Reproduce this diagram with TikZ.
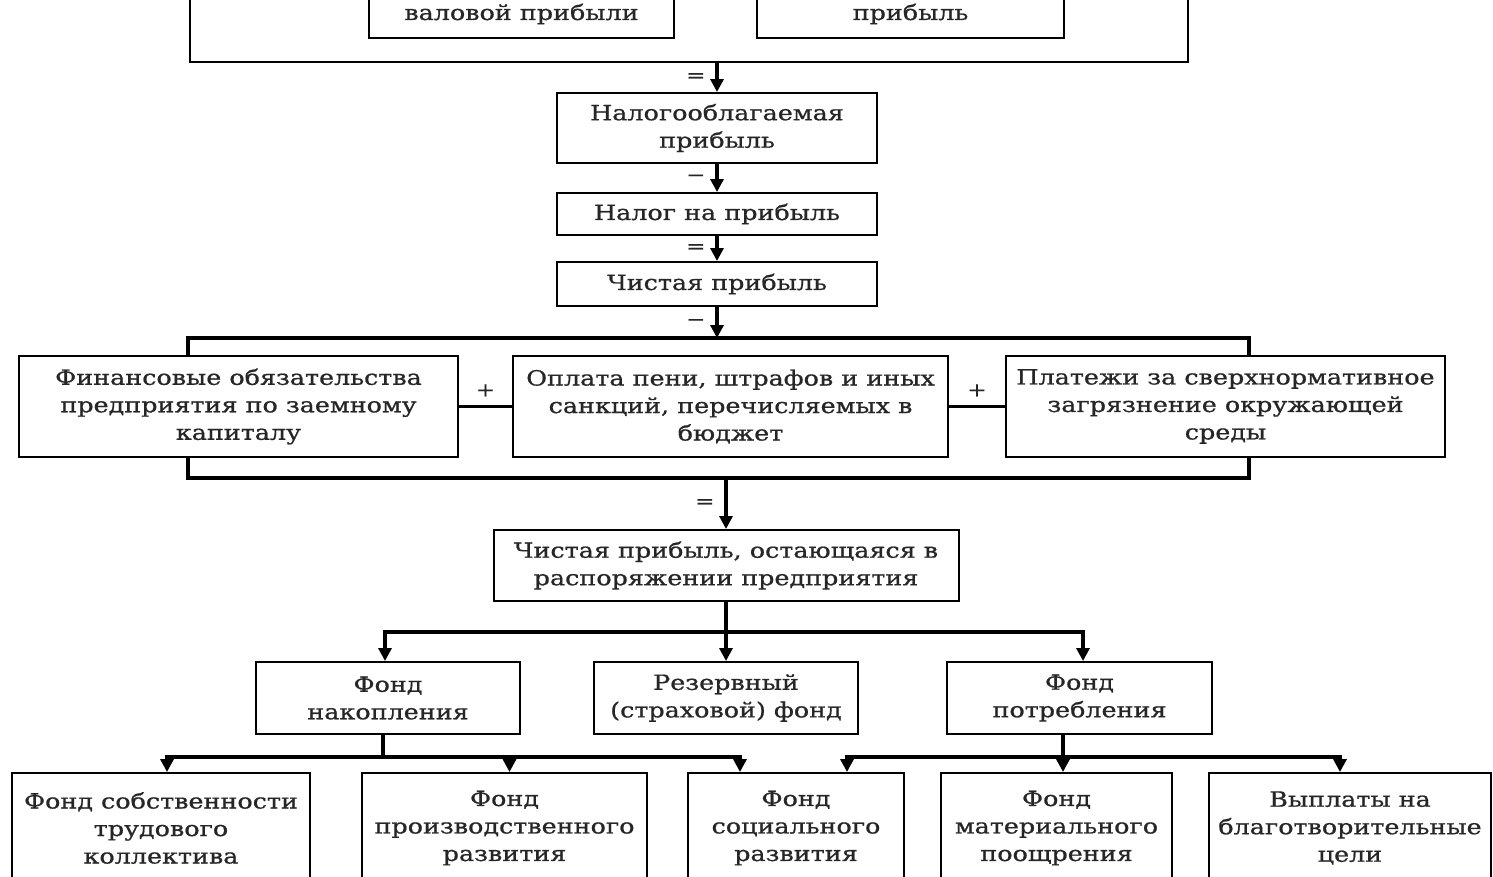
\documentclass[tikz,border=0pt]{standalone}
\usepackage{fontspec}
\setmainfont{DejaVu Serif}[FakeStretch=1.21,FakeBold=0.8]
\usetikzlibrary{arrows.meta}
\begin{document}
\begin{tikzpicture}[x=1pt,y=-1pt,
  box/.style={draw, line width=2pt, fill=white, align=center, inner sep=0pt,
    font=\fontsize{21}{27.5}\selectfont, text=black!85},
  arr/.style={line width=3.2pt, -{Triangle[length=13pt,width=13pt]}},
  conn/.style={line width=3.2pt},
  thin/.style={line width=2.4pt},
  sign/.style={font=\fontsize{19}{19}\selectfont, inner sep=0pt, text=black!85}]
\fill[white] (0,0) rectangle (1493,876);
\useasboundingbox (0,0) rectangle (1493,876);
\clip (0,0) rectangle (1493,876);

% top (cut) block
\node[box, minimum width=998pt, minimum height=82pt] (top) at (689,21) {};
\node[box, minimum width=305pt, minimum height=48pt] (ta) at (521.5,14) {валовой прибыли};
\node[box, minimum width=307pt, minimum height=48pt] (tb) at (910.5,14) {прибыль};

% middle column
\node[box, minimum width=320pt, minimum height=70pt] (n1) at (717,128) {Налогооблагаемая\\прибыль};
\node[box, minimum width=320pt, minimum height=42pt] (n2) at (717,214) {Налог на прибыль};
\node[box, minimum width=320pt, minimum height=44pt] (n3) at (717,284) {Чистая прибыль};

\draw[arr] (top.south -| n1.north) -- (n1.north) node[sign, midway, left=10pt] {=};
\draw[arr] (n1) -- (n2) node[sign, midway, left=10pt] {−};
\draw[arr] (n2) -- (n3) node[sign, midway, left=10pt] {=};

% bracket
\draw[line width=4pt] (188,338) rectangle (1249,478);
\coordinate (brT) at (717,338);
\coordinate (brB) at (726,478);
\draw[arr] (n3) -- (brT) node[sign, midway, left=10pt] {−};

\node[box, minimum width=439pt, minimum height=101pt] (r1) at (238.5,406.5) {Финансовые обязательства\\предприятия по заемному\\капиталу};
\node[box, minimum width=435pt, minimum height=101pt] (r2) at (730.5,406.5) {Оплата пени, штрафов и иных\\санкций, перечисляемых в\\бюджет};
\node[box, minimum width=439pt, minimum height=101pt] (r3) at (1225.5,406.5) {Платежи за сверхнормативное\\загрязнение окружающей\\среды};
\draw[thin] (r1) -- (r2) node[sign, midway, above=9pt] {+};
\draw[thin] (r2) -- (r3) node[sign, midway, above=9pt] {+};

% net profit remaining
\node[box, minimum width=465pt, minimum height=71pt] (n4) at (726,565.5) {Чистая прибыль, остающаяся в\\распоряжении предприятия};
\draw[arr] (brB) -- (n4.north) node[sign, midway, left=10pt] {=};

% funds
\node[box, minimum width=264pt, minimum height=72pt] (f1) at (388,698) {Фонд\\накопления};
\node[box, minimum width=264pt, minimum height=72pt] (f2) at (726,698) {Резервный\\(страховой) фонд};
\node[box, minimum width=265pt, minimum height=72pt] (f3) at (1079.5,698) {Фонд\\потребления};

\coordinate (j1) at (726,632);
\draw[conn] (n4.south) -- (j1);
\draw[arr] (j1) -| ([xshift=-3pt]f1.north);
\draw[arr] (j1) -| ([xshift=3.5pt]f3.north);
\draw[arr] (j1) -- (f2.north);

% bottom boxes
\node[box, minimum width=298pt, minimum height=110pt] (g1) at (161,828) {Фонд собственности\\трудового\\коллектива};
\node[box, minimum width=285pt, minimum height=110pt] (g2) at (504.5,828) {Фонд\\производственного\\развития};
\node[box, minimum width=216pt, minimum height=110pt] (g3) at (796,828) {Фонд\\социального\\развития};
\node[box, minimum width=231pt, minimum height=110pt] (g4) at (1056.5,828) {Фонд\\материального\\поощрения};
\node[box, minimum width=282pt, minimum height=110pt] (g5) at (1350,828) {Выплаты на\\благотворительные\\цели};

\draw[conn] ([xshift=-5pt]f1.south) -- ++(0,22) coordinate (j2);
\draw[arr] (j2) -| ([xshift=6pt]g1.north);
\draw[arr] (j2) -| ([xshift=5pt]g2.north);
\draw[arr] (j2) -| ([xshift=53pt]g3.north west);

\draw[conn] ([xshift=-16.5pt]f3.south) -- ++(0,22) coordinate (j3);
\draw[arr] (j3) -| ([xshift=160pt]g3.north west);
\draw[arr] (j3) -- (j3 |- g4.north);
\draw[arr] (j3) -| ([xshift=-10pt]g5.north);
\end{tikzpicture}
\end{document}
